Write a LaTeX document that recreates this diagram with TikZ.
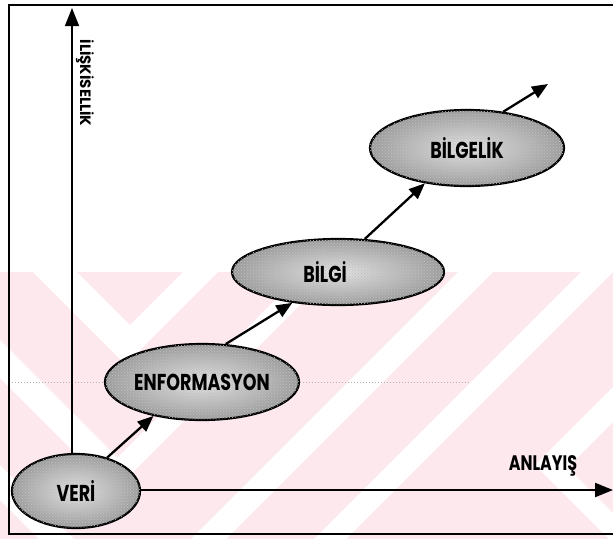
\documentclass[tikz,border=0pt]{standalone}
\usepackage{fontspec}
\setmainfont{Poppins}
\newfontfamily\narrowfont[FakeStretch=0.76]{Poppins}
\usetikzlibrary{arrows.meta,shapes.geometric,patterns}
\definecolor{wmpink}{RGB}{252,232,237}
\newcommand{\stagetext}[1]{\makebox[0pt]{#1}}
\tikzset{
  stage/.style={ellipse, draw=black, line width=2.2pt, inner sep=0pt,
    shading=radial, inner color=gray!22, outer color=gray!78,
    postaction={pattern=crosshatch dots, pattern color=black!25},
    font=\narrowfont\bfseries\fontsize{23}{23}\selectfont},
  flow/.style={line width=2.3pt, -{Triangle[length=16pt,width=13pt]}},
  axisline/.style={line width=1.5pt, -{Triangle[length=18pt,width=14pt]}},
  axlabel/.style={inner sep=0pt, font=\narrowfont\bfseries\fontsize{21}{21}\selectfont},
  frameline/.style={line width=1.3pt},
  scanline/.style={gray!60, line width=1pt, dotted},
}
\begin{document}
\begin{tikzpicture}[x=1pt,y=-1pt]
\useasboundingbox (0,0) rectangle (613,539);

% background band with white chevrons
\fill[wmpink] (0,272) rectangle (613,539);
\fill[white] (33,272) -- (125.5,364.5) -- (218,272) -- (183,272) -- (130,325) -- (77,272) -- cycle;
\fill[white] (0,340) -- (117.5,457.5) -- (303,272) -- (333,272) -- (113.5,491.5) -- (0,378) -- cycle;
\fill[white] (0,465) -- (74,539) -- (39,539) -- (0,500) -- cycle;
\fill[white] (458,272) -- (493,272) -- (226,539) -- (191,539) -- cycle;
\fill[white] (581,272) -- (613,272) -- (346,539) -- (314,539) -- cycle;
\fill[white] (613,387) -- (535,465) -- (609,539) -- (613,539) -- (613,513) -- (567.5,467.5) -- (613,422) -- cycle;

% frame
\draw[frameline] (613,5) -- (9,5) -- (9,534) -- (613,534);

% stages
\node[stage, minimum width=128pt, minimum height=74pt] (veri) at (76,491) {\stagetext{VERİ}};
\node[stage, minimum width=194pt, minimum height=76pt] (enf) at (202,382) {\stagetext{ENFORMASYON}};
\node[stage, minimum width=212pt, minimum height=66pt] (bilgi) at (338,272) {\stagetext{\hspace*{-26pt}BİLGİ}};
\node[stage, minimum width=194pt, minimum height=76pt] (bilgelik) at (467,148) {\stagetext{BİLGELİK}};

% faint scan line through the middle stage
\coordinate (scanl) at (12,382);
\coordinate (scanr) at (470,382);
\draw[scanline] (scanl) -- (enf.west);
\draw[scanline] (enf.east) -- (scanr);

% axes
\coordinate (ytip) at (72,8);
\coordinate (xtip) at (613,490);
\draw[axisline] (ytip |- veri.north) -- (ytip);
\draw[axisline, line width=2.2pt] (veri.east |- xtip) -- (xtip);
\node[axlabel, rotate=-90, font=\bfseries\fontsize{15}{15}\selectfont] (ylab) at (85,83) {İLİŞKİSELLİK};
\node[axlabel] (xlab) at (543,466) {ANLAYIŞ};

% progression arrows
\coordinate (beyond) at (548,84);
\draw[flow] (veri.47) -- (enf.215);
\draw[flow] (enf.58) -- (bilgi.214);
\draw[flow] (bilgi.51) -- (bilgelik.220);
\draw[flow] (bilgelik.45) -- (beyond);
\end{tikzpicture}
\end{document}
